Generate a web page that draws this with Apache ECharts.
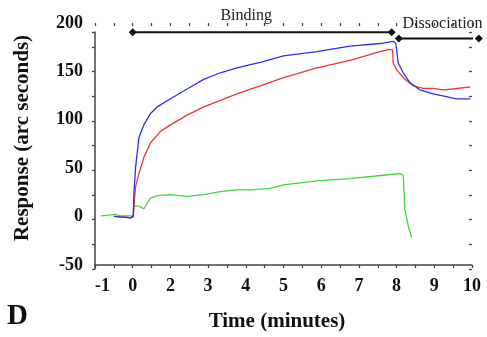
<!DOCTYPE html>
<html>
<head>
<meta charset="utf-8">
<script src="https://cdn.jsdelivr.net/npm/echarts@6/dist/echarts.min.js"></script>
<style>
  html, body { margin: 0; padding: 0; background: #fff; }
  #main { width: 487px; height: 337px; }
</style>
</head>
<body>
<div id="main"></div>
<script>
// x values are in axis units (one tick = 0.5), labels are as printed on the figure
let xTickAt = [0, 1, 2, 3, 4, 5, 6, 7, 8, 9, 10];
let xTickText = ['-1', '0', '2', '3', '4', '5', '6', '7', '8', '9', '10'];

// 数据 (response in arc seconds)
let blueData = [
    [0.50, 0.2], [0.63, -0.3], [0.81, -0.6], [0.94, -1.3], [1.016, 0.7],
    [1.032, 24.2], [1.077, 51.1], [1.164, 81.4], [1.296, 94.8], [1.473, 106.6],
    [1.651, 113.3], [2.0, 121.7], [2.444, 131.8], [2.884, 141.8], [3.325, 148.6],
    [3.767, 153.6], [4.119, 157], [4.384, 159.3], [5.0, 166], [5.884, 170.4],
    [6.765, 176.1], [7.558, 178.8], [7.91, 181.1], [7.98, 178.8], [8.042, 158.7],
    [8.175, 148.6], [8.352, 138.5], [8.616, 131], [8.968, 126.7], [9.323, 124],
    [9.587, 121.7], [9.958, 121.7]
];
let redData = [
    [0.50, 0.2], [0.81, -0.8], [0.94, -1.3], [1.016, -0.3],
    [1.032, 10.8], [1.077, 30.9], [1.164, 44.4], [1.296, 61.2], [1.473, 76.3],
    [1.738, 88.1], [2.0, 94.8], [2.444, 104.8], [2.884, 113.3], [3.325, 120],
    [3.767, 126.7], [4.119, 131.8], [4.384, 135.1], [5.0, 143.5], [5.884, 153.6],
    [6.765, 161.3], [7.558, 170.4], [7.823, 172.8], [7.894, 172.1], [7.91, 158.7],
    [8.0, 151.9], [8.175, 143.5], [8.439, 135.1], [8.704, 132.5], [8.968, 132.5],
    [9.233, 131], [9.497, 131.8], [9.958, 134.1]
];
let greenData = [
    [0.151, 0.7], [0.415, 1.7], [0.548, 2.2], [0.68, 0.7], [0.944, 0.7],
    [1.016, 0.7], [1.024, 10.8], [1.164, 10.8], [1.296, 8.1], [1.473, 19.2],
    [1.651, 21.6], [2.0, 22.6], [2.444, 20.9], [2.884, 22.6], [3.325, 25.9],
    [3.767, 27.6], [4.119, 27.6], [4.648, 29.2], [5.0, 32.7], [5.884, 37],
    [6.765, 39.3], [7.646, 42.7], [8.087, 44.4], [8.175, 42.7], [8.219, 7.5],
    [8.307, -9.4], [8.397, -21.2]
];

// phase brackets above the curves
let bindingSpan = [[1.0, 190.5], [7.87, 190.5]];
let dissociationSpan = [[8.06, 184], [10.18, 184]];
let phaseNames = ['Binding', 'Dissociation'];
let phaseTextAt = [[4.01, 207.5], [9.22, 199.5]];

let serif = '"Liberation Serif", "Times New Roman", serif';

let myChart = echarts.init(document.getElementById('main'));

let tickStyle = { color: '#444', width: 1.3 };

let option = {
    animation: false,
    title: {
        text: 'D',
        left: 7,
        top: 302,
        padding: 0,
        textStyle: { fontFamily: serif, fontSize: 29, fontWeight: 'bold', color: '#111' }
    },
    grid: [
        { left: 95, right: 15, top: 23, bottom: 68 },
        // only for the y axis line, which stops below 200
        { left: 95, right: 15, top: 32, bottom: 68 }
    ],
    xAxis: [
        {
            gridIndex: 0, type: 'value', min: 0, max: 10, interval: 0.5,
            name: 'Time (minutes)', nameLocation: 'middle', nameGap: 46,
            nameTextStyle: { fontFamily: serif, fontSize: 21, fontWeight: 'bold', color: '#111', padding: [0, 13, 0, 0] },
            axisLine: { onZero: false, lineStyle: { color: '#444', width: 1.5 } },
            axisTick: { length: 3, lineStyle: tickStyle },
            splitLine: { show: false },
            axisLabel: {
                margin: 12,
                alignMinLabel: 'left',
                fontFamily: serif, fontSize: 18, fontWeight: 'bold', color: '#111',
                formatter: function (value) {
                    let i = xTickAt.indexOf(value);
                    return i >= 0 ? xTickText[i] : '';
                }
            }
        },
        {
            // inner half of the crossing ticks
            gridIndex: 0, type: 'value', min: 0, max: 10, interval: 0.5,
            axisLine: { show: false, onZero: false },
            axisTick: { inside: true, length: 3, lineStyle: tickStyle },
            axisLabel: { show: false },
            splitLine: { show: false }
        },
        { gridIndex: 1, type: 'value', min: 0, max: 10, show: false }
    ],
    yAxis: [
        {
            gridIndex: 0, type: 'value', min: -50, max: 200, interval: 25,
            name: 'Response (arc seconds)', nameLocation: 'middle', nameGap: 62,
            nameTextStyle: { fontFamily: serif, fontSize: 21, fontWeight: 'bold', color: '#111', padding: [0, 0, 0, 12] },
            axisLine: { show: false, onZero: false },
            axisTick: { show: false },
            splitLine: { show: false },
            axisLabel: {
                margin: 12,
                fontFamily: serif, fontSize: 18, fontWeight: 'bold', color: '#111',
                formatter: function (value) {
                    return value % 50 === 0 ? String(value) : '';
                }
            }
        },
        {
            gridIndex: 1, type: 'value', min: -50, max: 190, interval: 25,
            axisLine: { show: true, onZero: false, lineStyle: { color: '#444', width: 1.5 } },
            axisTick: { length: 3, lineStyle: tickStyle },
            axisLabel: { show: false },
            splitLine: { show: false }
        },
        {
            gridIndex: 1, type: 'value', min: -50, max: 190, interval: 25,
            axisLine: { show: false, onZero: false },
            axisTick: { inside: true, length: 3, lineStyle: tickStyle },
            axisLabel: { show: false },
            splitLine: { show: false }
        }
    ],
    series: [
        {
            name: 'green', type: 'line', data: greenData, showSymbol: false,
            lineStyle: { color: '#3cd83c', width: 1.3 }, itemStyle: { color: '#3cd83c' }
        },
        {
            name: 'red', type: 'line', data: redData, showSymbol: false,
            lineStyle: { color: '#ec3434', width: 1.3 }, itemStyle: { color: '#ec3434' }
        },
        {
            name: 'blue', type: 'line', data: blueData, showSymbol: false,
            lineStyle: { color: '#2f2fec', width: 1.3 }, itemStyle: { color: '#2f2fec' }
        },
        {
            name: 'binding', type: 'line', data: bindingSpan, clip: false,
            symbol: 'diamond', symbolSize: 8,
            lineStyle: { color: '#111', width: 2 }, itemStyle: { color: '#111' }
        },
        {
            name: 'dissociation', type: 'line', data: dissociationSpan, clip: false,
            symbol: 'diamond', symbolSize: 8,
            lineStyle: { color: '#111', width: 2 }, itemStyle: { color: '#111' }
        }
    ]
};

myChart.setOption(option, true);

// phase names, placed through the chart's own scale
let texts = phaseNames.map((name, i) => {
    let p = myChart.convertToPixel({ gridIndex: 0 }, phaseTextAt[i]);
    return {
        type: 'text',
        x: p[0],
        y: p[1],
        z: 100,
        style: {
            text: name,
            align: 'center',
            verticalAlign: 'middle',
            font: '16px ' + serif,
            fill: '#222'
        }
    };
});
myChart.setOption({ graphic: texts });
</script>
</body>
</html>
